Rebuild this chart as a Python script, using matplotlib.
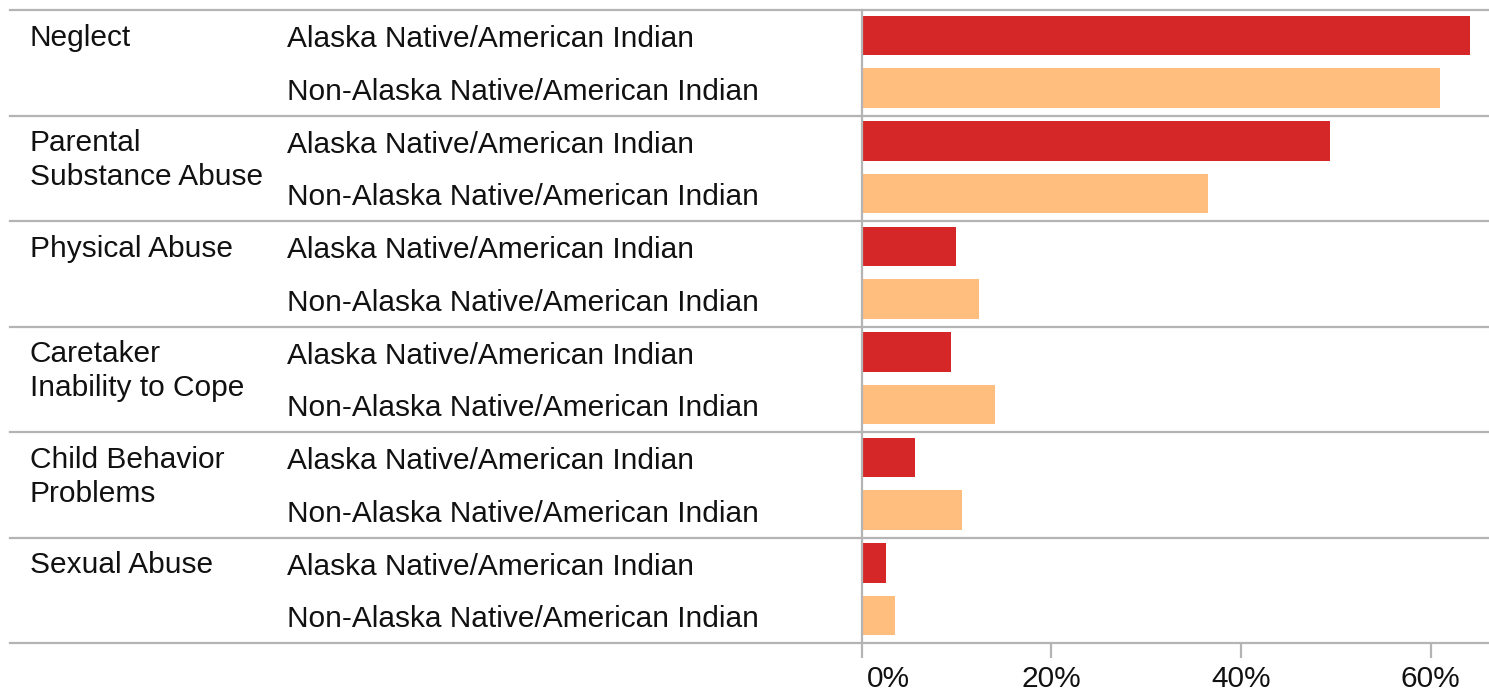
import matplotlib
matplotlib.use('Agg')
import matplotlib.pyplot as plt
import matplotlib.transforms as mtransforms
import numpy as np

plt.rcParams['font.family'] = ['Liberation Sans', 'DejaVu Sans']

categories = ["Neglect", "Parental\nSubstance Abuse", "Physical Abuse",
              "Caretaker\nInability to Cope", "Child Behavior\nProblems", "Sexual Abuse"]
groups = ["Alaska Native/American Indian", "Non-Alaska Native/American Indian"]
native_pct = [64.2, 49.4, 10.0, 9.4, 5.6, 2.6]
non_native_pct = [61.0, 36.5, 12.4, 14.1, 10.6, 3.5]
tick_values = [0, 20, 40, 60]
tick_labels = ["0%", "20%", "40%", "60%"]

colors = ["#d62728", "#ffbe7d"]
grid_col = "#b4b4b4"
txt_col = "#111111"
fs = 21.5

W, H = 1489, 695
fig = plt.figure(figsize=(W / 100, H / 100), dpi=100)
ax = fig.add_axes([861.5 / W, (H - 643) / H, 1 - 861.5 / W, (643 - 10) / H])

n = len(categories)
for i in range(n):
    for j, vals in enumerate([native_pct, non_native_pct]):
        y = 2 * i + 0.48 + j
        ax.barh(y, vals[i], height=0.75, color=colors[j], edgecolor='none')

ax.set_xlim(0, (W - 861.5) / 9.485)
ax.set_ylim(2 * n, 0)

# separators across the whole width
tr = mtransforms.blended_transform_factory(fig.transFigure, ax.transData)
for i in range(n + 1):
    ax.plot([10 / W, 1], [2 * i, 2 * i], transform=tr, color=grid_col, lw=1.6,
            clip_on=False, zorder=5)

# row labels
for i, cat in enumerate(categories):
    fig.text(30 / W, 0, cat, transform=tr, fontsize=fs, color=txt_col,
             va='top', ha='left', linespacing=1.28).set_y(2 * i + 0.26)
    for j, g in enumerate(groups):
        ax.text(287 / W, 2 * i + 0.55 + j, g, transform=tr, fontsize=fs,
                color=txt_col, va='center', ha='left')

for side in ['top', 'right', 'bottom']:
    ax.spines[side].set_visible(False)
ax.spines['left'].set_color(grid_col)
ax.spines['left'].set_linewidth(1.6)
ax.set_yticks([])

ax.set_xticks(tick_values)
ax.set_xticklabels(tick_labels, fontsize=fs, color=txt_col)
ax.tick_params(axis='x', length=11, width=1.6, color=grid_col, pad=5)
first = ax.get_xticklabels()[0]
first.set_horizontalalignment('left')
first.set_transform(first.get_transform() + mtransforms.ScaledTranslation(5 / 100, 0, fig.dpi_scale_trans))

fig.savefig("out.png", dpi=100)
